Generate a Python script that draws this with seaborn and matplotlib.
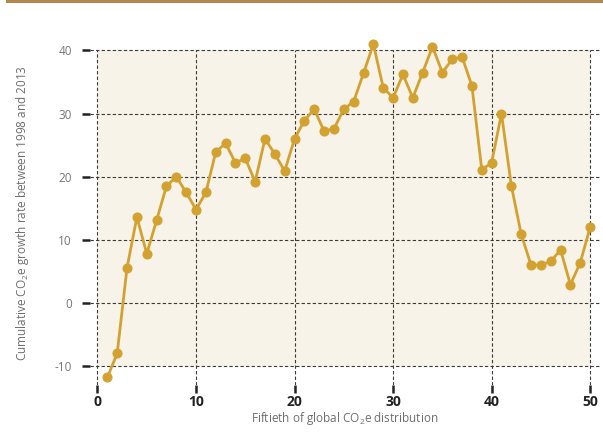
import numpy as np
import pandas as pd
import matplotlib
matplotlib.use("Agg")
import matplotlib.pyplot as plt
from matplotlib.patches import Rectangle
import seaborn as sns

# Data
fiftieth = list(range(1, 51))
growth = [-11.8, -8.0, 5.6, 13.6, 7.8, 13.1, 18.5, 20.0, 17.5, 14.8,
          17.5, 23.9, 25.3, 22.2, 22.9, 19.2, 26.0, 23.6, 20.9, 26.0,
          28.9, 30.7, 27.2, 27.6, 30.7, 31.9, 36.4, 41.0, 34.1, 32.5,
          36.2, 32.5, 36.5, 40.6, 36.5, 38.6, 39.0, 34.4, 21.1, 22.2,
          30.0, 18.6, 10.9, 6.0, 6.0, 6.6, 8.4, 2.9, 6.4, 12.0]
x_ticks = [0, 10, 20, 30, 40, 50]
y_ticks = [-10, 0, 10, 20, 30, 40]

df = pd.DataFrame({"fiftieth": fiftieth, "growth": growth})

sns.set_theme(style="white")
plt.rcParams["font.family"] = ["Open Sans", "DejaVu Sans"]
plt.rcParams["mathtext.fontset"] = "custom"
plt.rcParams["mathtext.rm"] = "Open Sans"
plt.rcParams["axes.unicode_minus"] = False

line_color = "#d3a130"
grid_color = "#3a3a3a"

fig = plt.figure(figsize=(6.03, 4.34), dpi=100)
ax = fig.add_axes([90 / 603, 1 - 385 / 434, 510 / 603, 344 / 434])
ax.set_xlim(-0.76, 51.0)
ax.set_ylim(-13, 41.5)

# beige panel
ax.add_patch(Rectangle((0, -10), 50, 50, facecolor="#f7f3e8", edgecolor="none", zorder=0))

# dashed grid
for yv in y_ticks:
    ax.axhline(yv, color=grid_color, lw=0.8, ls=(0, (3, 2)), zorder=1)
ax.vlines(x_ticks, -13, 40, color=grid_color, lw=0.8, linestyles=[(0, (3, 2))], zorder=1)

sns.lineplot(data=df, x="fiftieth", y="growth", ax=ax, color=line_color,
             linewidth=2.0, marker="o", markersize=6.5,
             markeredgecolor=line_color, markerfacecolor=line_color, zorder=3,
             clip_on=False)

for s in ax.spines.values():
    s.set_visible(False)

ax.set_xticks(x_ticks)
ax.set_yticks(y_ticks)
ax.tick_params(axis="both", direction="out", length=6, width=1.8, color="#222222")
ax.tick_params(axis="y", pad=7, labelsize=8.5, labelcolor="#777777", left=True)
ax.tick_params(axis="x", pad=1, labelsize=10, labelcolor="#222222", bottom=True)
for lab in ax.get_xticklabels():
    lab.set_fontweight("bold")

ax.set_xlabel(r"Fiftieth of global CO$_\mathregular{2}$e distribution",
              fontsize=8.5, color="#6e6e6e", labelpad=1)
ax.set_ylabel(r"Cumulative CO$_\mathregular{2}$e growth rate between 1998 and 2013",
              fontsize=8.5, color="#6e6e6e", labelpad=17)

# brown rule at top
fig.add_artist(Rectangle((6 / 603, 1 - 2.5 / 434), 597 / 603, 2.5 / 434,
                         transform=fig.transFigure, facecolor="#b4874c",
                         edgecolor="none"))

fig.savefig("out.png", dpi=100)
